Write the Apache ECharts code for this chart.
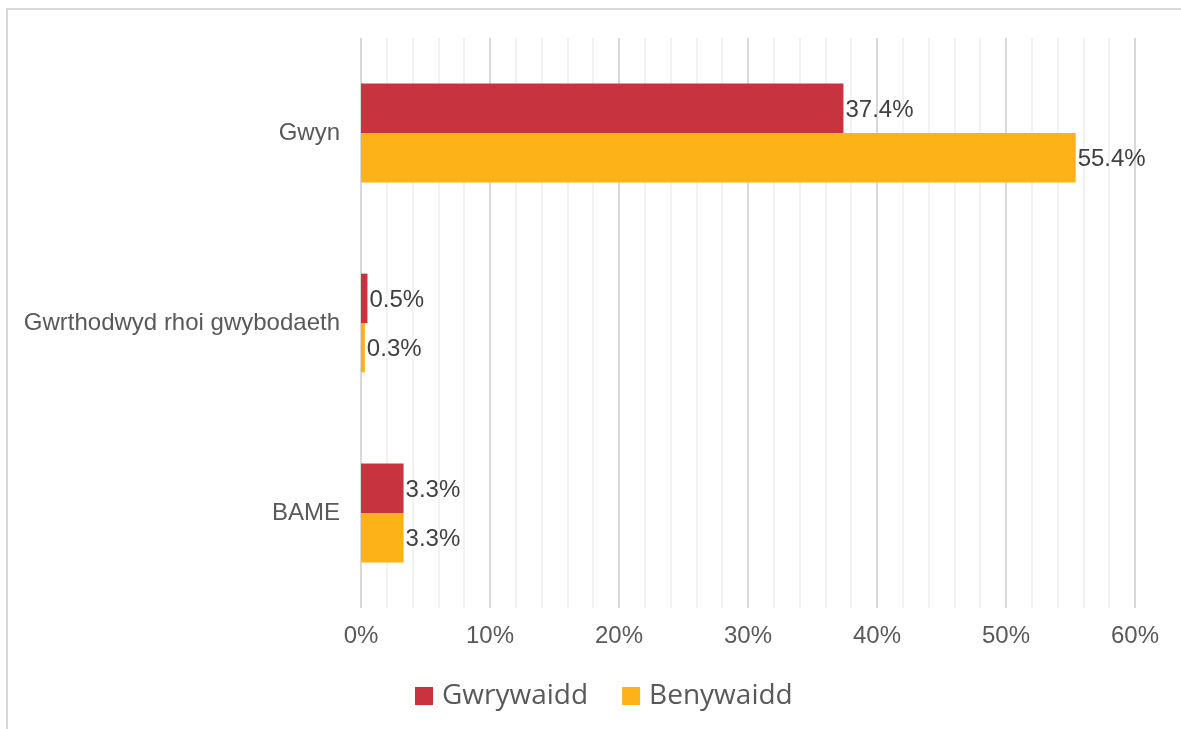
<!DOCTYPE html>
<html>
<head>
<meta charset="utf-8">
<script src="https://cdn.jsdelivr.net/npm/echarts@6/dist/echarts.min.js"></script>
<style>
  html, body { margin: 0; padding: 0; background: #fff; }
  #chart { width: 1181px; height: 729px; }
</style>
</head>
<body>
<div id="chart"></div>
<script>
// Ethnicity categories, top to bottom
const categories = ['Gwyn', 'Gwrthodwyd rhoi gwybodaeth', 'BAME'];
// Share of staff (%) by sex
const maleValues = [37.4, 0.5, 3.3];    // Gwrywaidd
const femaleValues = [55.4, 0.3, 3.3];  // Benywaidd
const seriesNames = ['Gwrywaidd', 'Benywaidd'];
const xTicks = [0, 10, 20, 30, 40, 50, 60];

const chart = echarts.init(document.getElementById('chart'), null, { renderer: 'canvas' });

const labelStyle = {
  show: true,
  position: 'right',
  distance: 2,
  offset: [0, 2],
  color: '#404040',
  fontFamily: 'Liberation Sans, Arial, sans-serif',
  fontSize: 24,
  formatter: p => p.value.toFixed(1) + '%'
};

chart.setOption({
  animation: false,
  backgroundColor: '#fff',
  graphic: [{
    type: 'rect',
    shape: { x: 7, y: 9, width: 1300, height: 900 },
    style: { fill: 'none', stroke: '#d9d9d9', lineWidth: 2 },
    silent: true
  }],
  grid: { left: 361, right: 46, top: 38, bottom: 121 },
  legend: {
    data: seriesNames,
    left: 415,
    top: 681,
    padding: 0,
    itemWidth: 18,
    itemHeight: 18,
    itemGap: 34,
    icon: 'rect',
    textStyle: {
      fontFamily: 'Open Sans, sans-serif',
      fontSize: 28,
      color: '#595959',
      lineHeight: 30,
      padding: [0, 0, 0, 4]
    }
  },
  xAxis: {
    type: 'value',
    min: xTicks[0],
    max: xTicks[xTicks.length - 1],
    interval: 10,
    axisLine: { show: false },
    axisTick: { show: false },
    axisLabel: {
      color: '#595959',
      fontFamily: 'Liberation Sans, Arial, sans-serif',
      fontSize: 24,
      margin: 16,
      formatter: v => v + '%'
    },
    splitLine: { show: true, lineStyle: { color: '#d9d9d9', width: 2 } },
    minorTick: { show: false, splitNumber: 5 },
    minorSplitLine: { show: true, lineStyle: { color: '#f2f2f2', width: 2 } }
  },
  yAxis: {
    type: 'category',
    data: categories,
    inverse: true,
    axisLine: { show: false },
    axisTick: { show: false },
    axisLabel: {
      color: '#595959',
      fontFamily: 'Liberation Sans, Arial, sans-serif',
      fontSize: 24,
      margin: 21
    }
  },
  series: [
    {
      name: seriesNames[0],
      type: 'bar',
      data: maleValues,
      barGap: '0%',
      barCategoryGap: '48%',
      itemStyle: { color: '#c7343f' },
      label: labelStyle
    },
    {
      name: seriesNames[1],
      type: 'bar',
      data: femaleValues,
      barGap: '0%',
      barCategoryGap: '48%',
      itemStyle: { color: '#fdb218' },
      label: labelStyle
    }
  ]
});
</script>
</body>
</html>
